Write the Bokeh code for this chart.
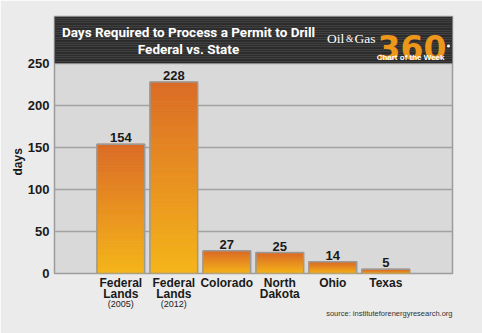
import numpy as np
from bokeh.plotting import figure
from bokeh.models import Range1d, FixedTicker, Label, LinearAxis, Title
from bokeh.core.properties import value
from bokeh.embed import file_html
from bokeh.resources import INLINE

# ---------------- data ----------------
categories = ["Federal\nLands", "Federal\nLands", "Colorado", "North\nDakota", "Ohio", "Texas"]
subtitles = ["(2005)", "(2012)", "", "", "", ""]
days = [154, 228, 27, 25, 14, 5]
y_ticks = [0, 50, 100, 150, 200, 250]
title_lines = ["Days Required to Process a Permit to Drill", "Federal vs. State"]
y_label = "days"
source_text = "source: instituteforenergyresearch.org"

# ---------------- layout (pixels) ----------------
W, H = 482, 333
FL, FR, FT, FB = 54, 452, 16, 273
PLOT_TOP_PX = 63            # pixel row of the 250 line
Y_MAX = 250 * (FB - FT) / (FB - PLOT_TOP_PX)
X0 = -(120.3 - FL) / 53.0
X1 = X0 + (FR - FL) / 53.0

def px2x(px):
    return X0 + (px - FL) * (X1 - X0) / (FR - FL)

def py2y(py):
    return (FB - py) * Y_MAX / (FB - FT)

SANS = "Liberation Sans"
COND = "Roboto"

p = figure(width=W, height=H, output_backend="svg", toolbar_location=None,
           x_range=Range1d(X0, X1), y_range=Range1d(0, Y_MAX),
           min_border_left=FL, min_border_right=W - FR,
           min_border_top=FT, min_border_bottom=H - FB)
p.background_fill_color = "#d9d9d9"
p.border_fill_color = "#ebebeb"
p.outline_line_color = "#9c9c9c"
p.outline_line_width = 1.5

# grid
p.xgrid.visible = False
p.ygrid.ticker = FixedTicker(ticks=y_ticks)
p.ygrid.grid_line_color = "#a2a2a2"
p.ygrid.grid_line_width = 1.5

def plain_axis(ax):
    ax.axis_line_color = None
    ax.major_tick_line_color = None
    ax.minor_tick_line_color = None
    ax.major_tick_out = 0
    ax.major_tick_in = 0
    ax.minor_tick_out = 0
    ax.minor_tick_in = 0

# y axis
yax = p.yaxis[0]
plain_axis(yax)
yax.ticker = FixedTicker(ticks=y_ticks)
yax.major_label_standoff = 5
yax.major_label_text_font = SANS
yax.major_label_text_font_style = "bold"
yax.major_label_text_font_size = "13px"
yax.major_label_text_color = "#1a1a1a"
yax.major_label_text_baseline = "alphabetic"

# x axis (category names)
xs = list(range(len(categories)))
xax = p.xaxis[0]
plain_axis(xax)
xax.ticker = FixedTicker(ticks=xs)
xax.major_label_overrides = {i: c for i, c in zip(xs, categories)}
xax.major_label_standoff = 2
xax.major_label_text_font = SANS
xax.major_label_text_font_style = "bold"
xax.major_label_text_font_size = "12px"
xax.major_label_text_line_height = 0.8
xax.major_label_text_color = "#1a1a1a"

# second x axis (years under the federal bars)
sub_ticks = [i for i, s in zip(xs, subtitles) if s]
xax2 = LinearAxis(ticker=FixedTicker(ticks=sub_ticks),
                  major_label_overrides={i: subtitles[i] for i in sub_ticks})
plain_axis(xax2)
xax2.major_label_standoff = -5
xax2.major_label_text_font = SANS
xax2.major_label_text_font_size = "9px"
xax2.major_label_text_color = "#1a1a1a"
p.add_layout(xax2, "below")

# source line and y label as panel titles
p.add_layout(Title(text=source_text, align="right", text_font=SANS,
                   text_font_style="normal", text_font_size="7.5px",
                   text_color="#333333", standoff=-12), "below")
p.add_layout(Title(text=y_label, align="left", offset=98, text_font=SANS,
                   text_font_style="bold", text_font_size="12px",
                   text_color="#1a1a1a", standoff=0), "left")

# ---------------- bars with vertical gradient ----------------
BAR_W = 0.9
N_SEG = 40
top_rgb = np.array([219, 108, 39])
bot_rgb = np.array([246, 182, 26])
ql, qr, qb, qt, qc = [], [], [], [], []
for x, v in zip(xs, days):
    for k in range(N_SEG):
        f = (k + 0.5) / N_SEG
        rgb = (bot_rgb + (top_rgb - bot_rgb) * f).astype(int)
        ql.append(x - BAR_W / 2)
        qr.append(x + BAR_W / 2)
        qb.append(v * k / N_SEG)
        qt.append(v * (k + 1) / N_SEG)
        qc.append("#%02x%02x%02x" % tuple(rgb))
p.quad(left=ql, right=qr, bottom=qb, top=qt, fill_color=qc, line_color=qc, line_width=0.8)
p.vbar(x=xs, top=days, width=BAR_W, fill_color=None, line_color="#9a9a9a", line_width=1.5)

p.text(x=xs, y=days, text=[str(v) for v in days], y_offset=-2,
       text_align="center", text_baseline="bottom",
       text_font=value(SANS), text_font_style="bold", text_font_size="13px",
       text_color="#1a1a1a")

# ---------------- header band ----------------
p.quad(left=[X0], right=[X1], bottom=[250], top=[Y_MAX], fill_color="#2c2c2c",
       line_color="#8a8a8a", line_width=1)
stripe_y = np.arange(py2y(FT + 1.5), 250, -(2.4 * Y_MAX / (FB - FT)))
p.hspan(y=list(stripe_y), line_color="#414141", line_width=1)

p.add_layout(Label(x=px2x(188), y=py2y(31.5), text=title_lines[0], text_align="center",
                   text_baseline="middle", text_font=COND, text_font_style="bold",
                   text_font_size="13.5px", text_color="white"))
p.add_layout(Label(x=px2x(188), y=py2y(48), text=title_lines[1], text_align="center",
                   text_baseline="middle", text_font=COND, text_font_style="bold",
                   text_font_size="13.5px", text_color="white"))

# logo
p.add_layout(Label(x=px2x(326.5), y=py2y(38), text="Oil", text_align="left",
                   text_baseline="alphabetic", text_font="Liberation Serif",
                   text_font_size="13.5px", text_color="white"))
p.add_layout(Label(x=px2x(345.5), y=py2y(38), text="&", text_align="left",
                   text_baseline="alphabetic", text_font="Liberation Serif",
                   text_font_size="9.5px", text_color="white"))
p.add_layout(Label(x=px2x(354), y=py2y(38), text="Gas", text_align="left",
                   text_baseline="alphabetic", text_font="Liberation Serif",
                   text_font_size="13.5px", text_color="white"))
p.add_layout(Label(x=px2x(377), y=py2y(47), text="360", text_align="left",
                   text_baseline="alphabetic", text_font="DejaVu Sans",
                   text_font_style="bold", text_font_size="33px", text_color="#ec961a"))
p.scatter(x=[px2x(448)], y=[py2y(45.5)], size=3, marker="circle", fill_color="white",
          line_color=None)
p.add_layout(Label(x=px2x(444), y=py2y(57), text="Chart of the Week", text_align="right",
                   text_baseline="middle", text_font=SANS, text_font_style="bold",
                   text_font_size="8px", text_color="white"))

open("out.html", "w").write(file_html(p, INLINE))
